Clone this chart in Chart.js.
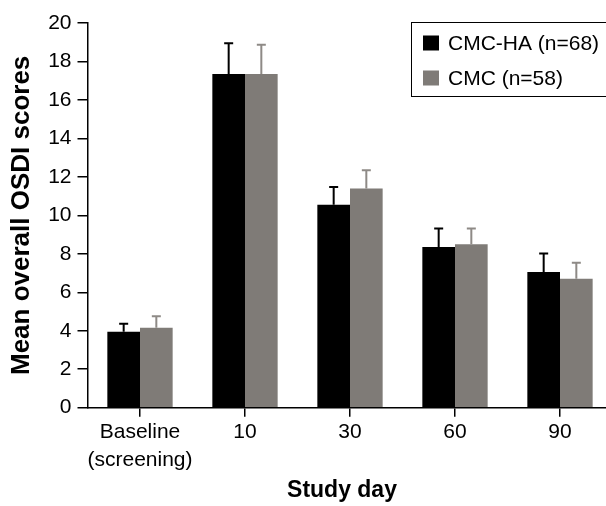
<!DOCTYPE html>
<html>
<head>
<meta charset="utf-8">
<script src="https://cdn.jsdelivr.net/npm/chart.js@4/dist/chart.umd.min.js"></script>
<style>
html,body{margin:0;padding:0;overflow:hidden;background:#fff;width:606px;height:506px;}
#wrap{position:relative;left:0;top:0;width:606px;height:506px;overflow:hidden;}
#c{position:absolute;left:0;top:0;}
</style>
</head>
<body>
<div id="wrap"><canvas id="c" width="620" height="506"></canvas></div>
<script>
const categories = [["Baseline", "(screening)"], "10", "30", "60", "90"];
const seriesNames = ["CMC-HA (n=68)", "CMC (n=58)"];
const cmcHaMeans = [3.95, 17.35, 10.55, 8.35, 7.05];
const cmcHaErrors = [0.42, 1.6, 0.93, 0.97, 0.97];
const cmcMeans = [4.15, 17.35, 11.4, 8.5, 6.7];
const cmcErrors = [0.6, 1.52, 0.95, 0.82, 0.84];
const yTicks = [0, 2, 4, 6, 8, 10, 12, 14, 16, 18, 20];
const xTitle = "Study day";
const yTitle = "Mean overall OSDI scores";

const FONT = "'Liberation Sans', Arial, sans-serif";
const BLACK = "#000000";
const GRAY = "#7f7b77";

const errorBarPlugin = {
  id: "errorBars",
  afterDatasetsDraw(chart) {
    const ctx = chart.ctx;
    const y = chart.scales.y;
    chart.data.datasets.forEach((ds, i) => {
      const meta = chart.getDatasetMeta(i);
      meta.data.forEach((bar, j) => {
        const top = y.getPixelForValue(ds.data[j] + ds.errors[j]);
        ctx.save();
        ctx.strokeStyle = ds.errorColor;
        ctx.lineWidth = 2;
        ctx.beginPath();
        ctx.moveTo(bar.x, bar.y);
        ctx.lineTo(bar.x, top);
        ctx.moveTo(bar.x - 4.5, top);
        ctx.lineTo(bar.x + 4.5, top);
        ctx.stroke();
        ctx.restore();
      });
    });
  }
};

const boxLegendPlugin = {
  id: "boxLegend",
  afterDraw(chart) {
    const ctx = chart.ctx;
    ctx.save();
    ctx.strokeStyle = "#000";
    ctx.lineWidth = 1;
    ctx.strokeRect(411.5, 22.5, 205, 74);
    ctx.font = "21px " + FONT;
    ctx.textBaseline = "middle";
    ctx.textAlign = "left";
    chart.data.datasets.forEach((ds, i) => {
      const cy = 43 + i * 35;
      ctx.fillStyle = ds.backgroundColor;
      ctx.fillRect(423, cy - 7.5, 16, 15);
      ctx.fillStyle = "#000";
      ctx.fillText(ds.label, 448, cy + 1);
    });
    ctx.font = "bold 23px " + FONT;
    ctx.textAlign = "center";
    ctx.textBaseline = "middle";
    ctx.fillText(xTitle, 342, 491);
    ctx.restore();
  }
};

new Chart(document.getElementById("c"), {
  type: "bar",
  data: {
    labels: categories,
    datasets: [
      { label: seriesNames[0], data: cmcHaMeans, errors: cmcHaErrors, backgroundColor: BLACK, errorColor: "#000000" },
      { label: seriesNames[1], data: cmcMeans, errors: cmcErrors, backgroundColor: GRAY, errorColor: "#8e8a86" }
    ]
  },
  options: {
    responsive: false,
    animation: false,
    events: [],
    layout: { padding: { left: 0, right: 7.5, top: 23, bottom: 0 } },
    datasets: { bar: { categoryPercentage: 0.622, barPercentage: 1.0, borderWidth: 0 } },
    plugins: { legend: { display: false }, tooltip: { enabled: false }, title: { display: false } },
    scales: {
      x: {
        offset: true,
        grid: { display: true, drawOnChartArea: false, offset: false, tickLength: 9, color: "#000", lineWidth: 1.5 },
        border: { display: true, color: "#000", width: 1.5 },
        ticks: { color: "#000", font: { family: FONT, size: 21, lineHeight: 1.33 }, padding: 2, maxRotation: 0, autoSkip: false },
        afterFit(scale) { scale.height = 98.3; }
      },
      y: {
        min: 0, max: 20,
        afterBuildTicks(scale) { scale.ticks = yTicks.map(v => ({ value: v })); },
        grid: { display: true, drawOnChartArea: false, tickLength: 10, color: "#000", lineWidth: 1.5 },
        border: { display: true, color: "#000", width: 1.5 },
        ticks: { color: "#000", font: { family: FONT, size: 21 }, padding: 6 },
        title: { display: true, text: yTitle, color: "#000", font: { family: FONT, size: 26, weight: "bold" }, padding: { top: 6, bottom: 0 } },
        afterFit(scale) { scale.width = 87.5; }
      }
    }
  },
  plugins: [errorBarPlugin, boxLegendPlugin]
});
</script>
</body>
</html>
